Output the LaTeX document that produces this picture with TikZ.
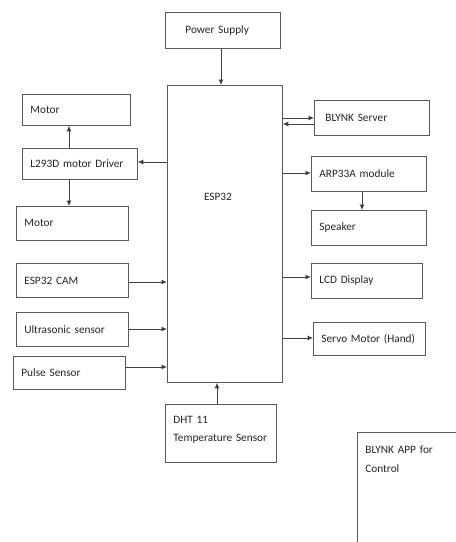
\documentclass[tikz,border=0pt]{standalone}
\usepackage{fontspec}
\setmainfont{Carlito}
\usetikzlibrary{arrows.meta}
\hfuzz=20pt
\begin{document}
\begin{tikzpicture}[x=1pt,y=-1pt,
  box/.style={draw=black!65, line width=0.8pt, anchor=north west, align=left,
    inner xsep=8pt, inner ysep=0pt, font=\fontsize{11.3}{18.5}\selectfont, text=black!85},
  arr/.style={draw=black!75, line width=0.8pt, -{Latex[length=5.5pt,width=5pt]}}]
\clip (0,0) rectangle (456,542);
\fill[white] (0,0) rectangle (456,542);
% boxes
\node[box, minimum height=36pt, text width=99pt] (ps) at (165,12) {\hspace*{12pt}Power Supply};
\node[box, minimum height=297pt, minimum width=115pt, text width=99pt] (esp) at (167,85) {};
\node[text=black!85, font=\fontsize{11.3}{14}\selectfont] (esplabel) at (218,197) {ESP32};
\node[box, minimum height=31pt, text width=92pt] (m1) at (22,94) {Motor};
\node[box, minimum height=31pt, text width=99pt] (drv) at (22,148) {L293D motor Driver};
\node[box, minimum height=34pt, text width=96pt] (m2) at (16,206) {Motor};
\node[box, minimum height=34pt, text width=96pt] (cam) at (16,263) {ESP32 CAM};
\node[box, minimum height=34pt, text width=96pt] (us) at (16,312) {Ultrasonic sensor};
\node[box, minimum height=33pt, text width=96pt] (pulse) at (13,356) {Pulse Sensor};
\node[box, minimum height=58pt, text width=95pt, text depth=28pt] (dht) at (165,404) {DHT 11\\\mbox{Temperature Sensor}};
\node[box, minimum height=35pt, text width=99pt] (bs) at (314,100) {\hspace*{3pt}BLYNK Server};
\node[box, minimum height=35pt, text width=99pt] (arp) at (311,156) {ARP33A module};
\node[box, minimum height=35pt, text width=99pt] (spk) at (311,210) {Speaker};
\node[box, minimum height=35pt, text width=95pt] (lcd) at (311,263) {LCD Display};
\node[box, minimum height=33pt, text width=96pt] (servo) at (313,322) {Servo Motor (Hand)};
\node[box, minimum height=140pt, text width=104pt, text depth=105pt] (app) at (357,432) {BLYNK APP for\\Control};
% helper coordinates
\coordinate (px) at (221,0);
\coordinate (vx) at (69,0);
\coordinate (sx) at (362,0);
\coordinate (dx) at (217,0);
\coordinate (b1) at (0,118);
\coordinate (b2) at (0,124);
\coordinate (dy) at (0,162);
\coordinate (ay) at (0,173);
\coordinate (ly) at (0,277);
\coordinate (sy) at (0,338);
\coordinate (cy) at (0,282);
\coordinate (uy) at (0,329);
\coordinate (qy) at (0,367);
% connectors
\draw[arr] (ps.south -| px) -- (esp.north -| px);
\draw[arr] (esp.west |- dy) -- (drv.east |- dy);
\draw[arr] (drv.north -| vx) -- (m1.south -| vx);
\draw[arr] (drv.south -| vx) -- (m2.north -| vx);
\draw[arr] (cam.east |- cy) -- (esp.west |- cy);
\draw[arr] (us.east |- uy) -- (esp.west |- uy);
\draw[arr] (pulse.east |- qy) -- (esp.west |- qy);
\draw[arr] (dht.north -| dx) -- (esp.south -| dx);
\draw[arr] (esp.east |- b1) -- (bs.west |- b1);
\draw[arr] (bs.west |- b2) -- (esp.east |- b2);
\draw[arr] (esp.east |- ay) -- (arp.west |- ay);
\draw[arr] (arp.south -| sx) -- (spk.north -| sx);
\draw[arr] (esp.east |- ly) -- (lcd.west |- ly);
\draw[arr] (esp.east |- sy) -- (servo.west |- sy);
\end{tikzpicture}
\end{document}
